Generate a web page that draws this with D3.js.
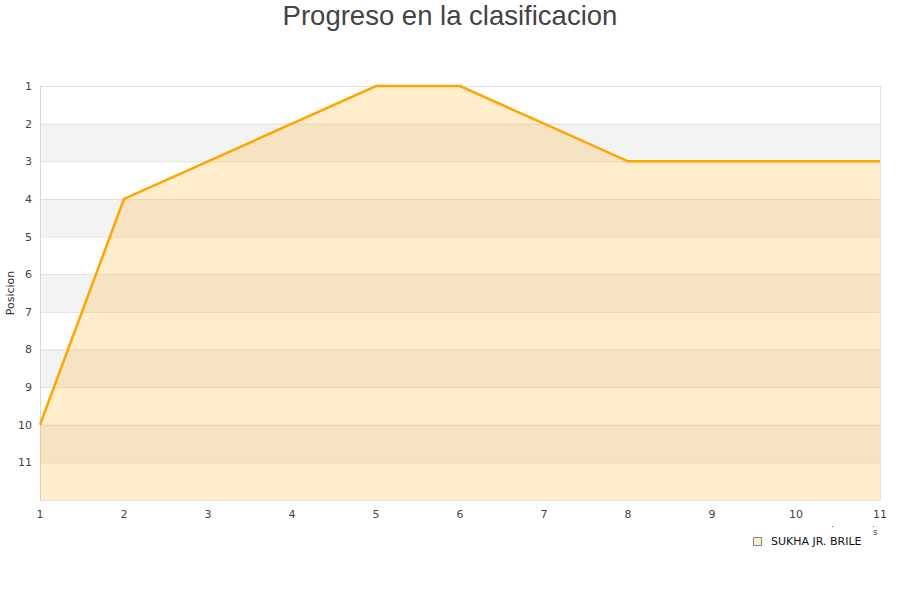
<!DOCTYPE html>
<html><head><meta charset="utf-8">
<script src="https://cdn.jsdelivr.net/npm/d3@7"></script>
<style>body{margin:0;background:#fff}svg{display:block;font-family:"DejaVu Sans",sans-serif}</style>
</head><body>
<svg id="c" width="900" height="600"></svg>
<script>
const rounds = [1,2,3,4,5,6,7,8,9,10,11];
const positions = [10,4,3,2,1,1,2,3,3,3,3];
const yTicks = [1,2,3,4,5,6,7,8,9,10,11];
const seriesName = "SUKHA JR. BRILE";
const title = "Progreso en la clasificacion";

const svg = d3.select("#c");
const L=40,R=880,T=86,B=500;
const x = d3.scaleLinear().domain([1,11]).range([L,R]);
const y = d3.scaleLinear().domain([1,12]).range([T,B]);

const bands = d3.range(1,12);
svg.append("g").selectAll("rect").data(bands).join("rect")
  .attr("x",L).attr("width",R-L)
  .attr("y",d=>y(d)).attr("height",d=>y(d+1)-y(d))
  .attr("fill",d=>d%2===0?"#f3f3f3":"#ffffff");
svg.append("g").selectAll("line").data(d3.range(1,13)).join("line")
  .attr("x1",L).attr("x2",R).attr("y1",d=>y(d)+0.5).attr("y2",d=>y(d)+0.5)
  .attr("stroke","#e0e0e0");
svg.append("line").attr("x1",L+0.5).attr("x2",L+0.5).attr("y1",T).attr("y2",B).attr("stroke","#d8d8d8");
svg.append("line").attr("x1",R+0.5).attr("x2",R+0.5).attr("y1",T).attr("y2",B).attr("stroke","#e0e0e0");

const data = rounds.map((r,i)=>({r,p:positions[i]}));
svg.append("path").datum(data)
  .attr("d",d3.area().x(d=>x(d.r)).y0(B).y1(d=>y(d.p)))
  .attr("fill","orange").attr("fill-opacity",0.2);
svg.append("path").datum(data)
  .attr("d",d3.line().x(d=>x(d.r)).y(d=>y(d.p)))
  .attr("fill","none").attr("stroke","#ffa500").attr("stroke-width",2.5);

svg.append("g").selectAll("text").data(yTicks).join("text")
  .attr("x",32).attr("y",d=>y(d)+4).attr("text-anchor","end")
  .attr("font-size",11).attr("fill","#444").text(d=>d);
svg.append("g").selectAll("text").data(rounds).join("text")
  .attr("x",d=>x(d)).attr("y",518).attr("text-anchor","middle")
  .attr("font-size",11).attr("fill","#444").text(d=>d);

svg.append("text").attr("transform","translate(14,293) rotate(-90)")
  .attr("text-anchor","middle").attr("font-size",11).attr("fill","#333").text("Posicion");
svg.append("text").attr("x",450).attr("y",25).attr("text-anchor","middle")
  .attr("font-family","'Liberation Sans',Arial,sans-serif")
  .attr("font-size",27.5).attr("fill","#444").text(title);

svg.append("text").attr("x",873).attr("y",535).attr("font-size",9).attr("fill","#444").text("s");
svg.append("g").selectAll("rect").data([832,873]).join("rect")
  .attr("x",d=>d).attr("y",526).attr("width",1).attr("height",1).attr("fill","#666");

svg.append("rect").attr("x",753.5).attr("y",537.5).attr("width",8).attr("height",8)
  .attr("fill","#ffecc9").attr("stroke","#888");
svg.append("text").attr("x",771).attr("y",545).attr("font-size",11).attr("fill","#111").text(seriesName);
</script>
</body></html>
